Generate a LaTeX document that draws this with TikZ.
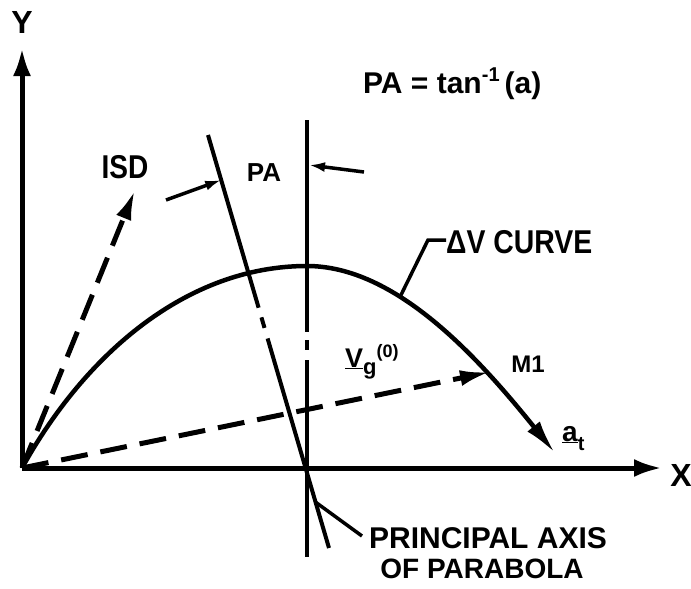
\documentclass[tikz,border=0pt]{standalone}
\usepackage{fontspec}
\setmainfont{Liberation Sans}
\usetikzlibrary{arrows.meta,calc}
\begin{document}
\begin{tikzpicture}[x=1pt,y=-1pt,
  axis/.style={line width=5pt,-{Latex[length=28pt,width=18pt]}},
  thinl/.style={line width=4pt},
  dashv/.style={line width=5pt,dash pattern=on 27pt off 13pt},
  bighead/.style={-{Latex[length=30pt,width=16pt]}},
  smallhead/.style={line width=3.5pt,-{Latex[length=16pt,width=10pt]}},
  lbl/.style={inner sep=0pt,font=\bfseries}]
\useasboundingbox (0,0) rectangle (691,589);
% key points
\coordinate (O) at (22,468);
\coordinate (Ytip) at (22,48);
\coordinate (Xtip) at (662,468);
\coordinate (Vtop) at (307,120);
\coordinate (Vbot) at (307,557);
\coordinate (Ttop) at (208,135);
\coordinate (Tbot) at (329,548);
\coordinate (ISDtip) at (135,190);
\coordinate (M1) at (490,372);
\coordinate (Apex) at (307,266);
\coordinate (Cend) at (555,453);
% axes
\draw[axis] (O) -- (Ytip);
\draw[axis] (O) -- (Xtip);
% vertical line with chain break
\draw[thinl,dash pattern=on 212pt off 8pt on 10pt off 10pt on 400pt] (Vtop) -- (Vbot);
% principal axis with chain break
\draw[thinl,dash pattern=on 180pt off 10pt on 11pt off 11pt on 400pt] (Ttop) -- (Tbot);
% Delta V curve
\draw[line width=4.5pt,-{Latex[length=34pt,width=16pt]}]
  (O) .. controls (85,354) and (187,266) .. (Apex)
      .. controls (397,266) and (480,360) .. (Cend);
% ISD and Vg dashed vectors
\draw[dashv,bighead] (O) -- (ISDtip);
\draw[dashv,bighead] (O) -- (M1);
% PA angle arrows
\coordinate (PAl0) at (166,200);
\coordinate (PAl1) at ($(Ttop)!0.109!(Tbot)$);
\coordinate (PAr0) at (364,172);
\coordinate (PAr1) at (309,165);
\draw[smallhead] (PAl0) -- (PAl1);
\draw[smallhead] (PAr0) -- (PAr1);
% leaders
\coordinate (DVc) at (400,297);
\coordinate (DVk) at (428,240);
\coordinate (DVe) at (446,240);
\draw[line width=3.5pt] (DVc) -- (DVk) -- (DVe);
\coordinate (PRa) at ($(Ttop)!0.889!(Tbot)$);
\coordinate (PRb) at (362,536);
\draw[line width=3.5pt] (PRa) -- (PRb);
% labels
\node[lbl,font=\bfseries\fontsize{32}{32}\selectfont] (Ylab) at (22,22) {Y};
\node[lbl,font=\bfseries\fontsize{32}{32}\selectfont] (Xlab) at (681,475) {X};
\node[lbl,font=\bfseries\fontsize{33}{33}\selectfont] (ISD) at (125,167) {\scalebox{0.85}[1]{ISD}};
\node[lbl,font=\bfseries\fontsize{26}{26}\selectfont] (PA) at (264,173) {PA};
\node[lbl,font=\bfseries\fontsize{30}{30}\selectfont,anchor=base west] (PAeq) at (363,93) {PA = tan\raisebox{12pt}{\fontsize{20}{20}\selectfont -1}\,(a)};
\node[lbl,font=\bfseries\fontsize{33}{33}\selectfont,anchor=west] (DV) at (446,242) {\scalebox{0.86}[1]{ΔV CURVE}};
\node[lbl,font=\bfseries\fontsize{24}{24}\selectfont] (M1lab) at (528,364) {M1};
\node[lbl,font=\bfseries\fontsize{27}{27}\selectfont,anchor=base west] (Vg) at (345,367) {\underline{V}\raisebox{-7pt}{\fontsize{22}{22}\selectfont g}\raisebox{10pt}{\fontsize{18}{18}\selectfont (0)}};
\node[lbl,font=\bfseries\fontsize{28}{28}\selectfont,anchor=base west] (at) at (562,441) {\underline{a}\raisebox{-9pt}{\fontsize{20}{20}\selectfont t}};
\node[lbl,font=\bfseries\fontsize{30}{30}\selectfont,anchor=base] (PR1) at (488,548) {PRINCIPAL AXIS};
\node[lbl,font=\bfseries\fontsize{28}{28}\selectfont,anchor=base] (PR2) at (482,578) {OF PARABOLA};
\end{tikzpicture}
\end{document}
